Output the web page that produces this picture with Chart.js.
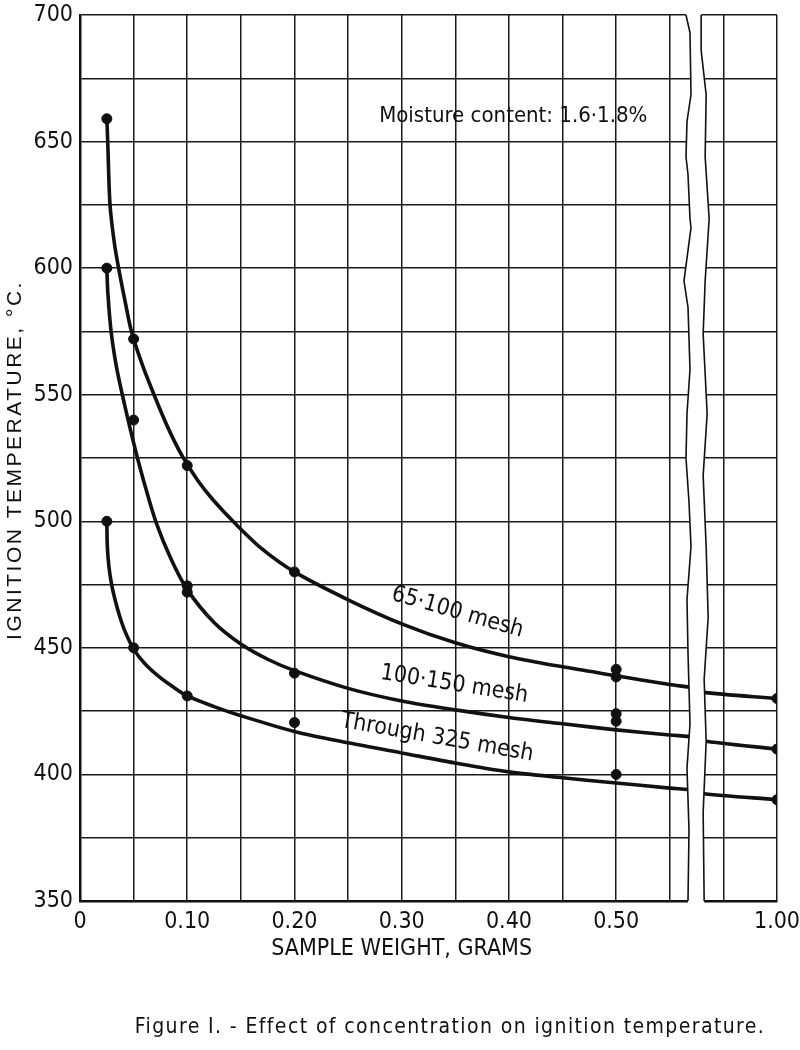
<!DOCTYPE html>
<html>
<head>
<meta charset="utf-8">
<title>Effect of concentration on ignition temperature</title>
<script src="https://cdn.jsdelivr.net/npm/chart.js@4.4.1/dist/chart.umd.min.js"></script>
<style>
    html, body { margin: 0; padding: 0; background: #fff; }
    #wrap { width: 800px; height: 1050px; }
</style>
</head>
<body>
<div id="wrap"><canvas id="fig"></canvas></div>
<script>
const pointWeights65 = [0.025, 0.05, 0.10, 0.20, 0.50, 0.50, 1.00];
const pointTemps65 = [659, 572, 522, 480, 441.5, 438.5, 430];
const pointWeights100 = [0.025, 0.05, 0.10, 0.10, 0.20, 0.50, 0.50, 1.00];
const pointTemps100 = [600, 540, 474.5, 472, 440, 424, 421, 410];
const pointWeights325 = [0.025, 0.05, 0.10, 0.20, 0.50, 1.00];
const pointTemps325 = [500, 450, 431, 420.5, 400, 390];

// Courbes lissées tracées sur la figure
const curveWeights65 = [0.025, 0.026, 0.028, 0.032, 0.036, 0.042, 0.048, 0.058, 0.07, 0.082, 0.095, 0.11, 0.125, 0.145, 0.17, 0.20, 0.25, 0.30, 0.35, 0.40, 0.45, 0.50, 0.55, 0.575, 0.93, 1.00];
const curveTemps65 = [660, 648, 625, 610, 600, 587, 575, 562, 549, 537, 526, 516, 508, 499, 489, 480, 469, 459.5, 452, 446.5, 442.5, 439, 435.5, 434, 432.5, 430];
const curveWeights100 = [0.025, 0.026, 0.029, 0.034, 0.040, 0.046, 0.053, 0.061, 0.071, 0.085, 0.10, 0.125, 0.15, 0.175, 0.20, 0.25, 0.30, 0.35, 0.40, 0.45, 0.50, 0.55, 0.575, 0.93, 1.00];
const curveTemps100 = [600, 590, 575, 561, 549, 538, 526, 513.5, 499.5, 485, 473, 460, 451.5, 445.5, 441, 434, 429, 425.5, 422.5, 420, 417.6, 415.6, 414.6, 413.3, 410];
const curveWeights325 = [0.025, 0.0255, 0.027, 0.0295, 0.033, 0.037, 0.042, 0.05, 0.061, 0.074, 0.087, 0.10, 0.125, 0.15, 0.20, 0.25, 0.30, 0.35, 0.40, 0.45, 0.50, 0.55, 0.575, 0.93, 1.00];
const curveTemps325 = [500, 490, 482, 475, 468.5, 462.5, 456.5, 449.5, 443.5, 438.5, 434.5, 431, 426.8, 423.2, 417, 412.5, 408.5, 404.5, 401, 398.7, 396.6, 394.6, 393.6, 392.5, 390];

// Graduations
const xTickWeights = [0, 0.10, 0.20, 0.30, 0.40, 0.50, 1.00];
const xTickLabels = ['0', '0.10', '0.20', '0.30', '0.40', '0.50', '1.00'];
const yTickValues = [350, 400, 450, 500, 550, 600, 650, 700];

// Textes
const curveLabels = ['65·100 mesh', '100·150 mesh', 'Through 325 mesh'];
const noteText = 'Moisture content: 1.6·1.8%';
const xTitle = 'SAMPLE WEIGHT, GRAMS';
const yTitle = 'IGNITION TEMPERATURE, °C.';
const caption = 'Figure I. - Effect of concentration on ignition temperature.';

// Coupure de l'axe x : tout ce qui dépasse 0.75 g est ramené de 0.35
const breakShift = 0.35;
const toAxis = w => (w > 0.75 ? w - breakShift : w);
const breakStart = 0.567;
const breakEnd = 0.583;

// Forme des bords déchirés (fraction de hauteur, décalage en px)
const zigLeft = [[0, -2], [0.02, 2], [0.09, 3], [0.12, -1], [0.16, -2], [0.18, 0], [0.23, 2], [0.24, 3], [0.3, -4], [0.33, 0], [0.4, 2], [0.45, -1], [0.5, -2], [0.55, 1], [0.6, 3], [0.66, -1], [0.72, 0], [0.8, 2], [0.85, -1], [0.92, 1], [1, 0]];
const zigRight = [[0, -4], [0.04, -4], [0.09, 1], [0.16, 0], [0.23, 4], [0.3, 0], [0.36, -2], [0.45, 2], [0.52, -2], [0.6, 1], [0.68, 3], [0.75, -1], [0.82, 1], [0.9, -2], [1, -1]];

const ink = '#111';
const narrow = '"Liberation Sans Narrow", "DejaVu Sans Condensed", sans-serif';

function toPoints(ws, ts) {
    return ws.map((w, i) => ({ x: toAxis(w), y: ts[i] }));
}

function curveDataset(ws, ts) {
    return {
        type: 'line',
        data: toPoints(ws, ts),
        borderColor: ink,
        borderWidth: 3.6,
        pointRadius: 0,
        tension: 0.3,
        fill: false,
    };
}

function pointDataset(ws, ts) {
    return {
        type: 'scatter',
        data: toPoints(ws, ts),
        backgroundColor: ink,
        borderColor: ink,
        pointRadius: 5,
        pointHoverRadius: 5,
    };
}

// Plugin : coupure de l'axe, étiquettes des courbes, titres et légende
const figurePlugin = {
    id: 'figure',
    afterDatasetsDraw(chart) {
        const { ctx, chartArea: a, scales: { x, y } } = chart;
        const xl = x.getPixelForValue(breakStart);
        const xr = x.getPixelForValue(breakEnd);
        const h = a.bottom - a.top;
        const left = zigLeft.map(([f, d]) => [xl + d, a.top + f * h]);
        const right = zigRight.map(([f, d]) => [xr + d, a.top + f * h]);

        ctx.save();
        ctx.fillStyle = '#fff';
        ctx.beginPath();
        ctx.moveTo(left[0][0], a.top - 4);
        left.forEach(p => ctx.lineTo(p[0], p[1]));
        ctx.lineTo(left[left.length - 1][0], a.bottom + 4);
        ctx.lineTo(right[right.length - 1][0], a.bottom + 4);
        right.slice().reverse().forEach(p => ctx.lineTo(p[0], p[1]));
        ctx.lineTo(right[0][0], a.top - 4);
        ctx.closePath();
        ctx.fill();

        ctx.strokeStyle = ink;
        ctx.lineWidth = 1.6;
        [left, right].forEach(edge => {
            ctx.beginPath();
            edge.forEach((p, i) => (i ? ctx.lineTo(p[0], p[1]) : ctx.moveTo(p[0], p[1])));
            ctx.stroke();
        });

        // Étiquettes des courbes
        const labelAt = [[0.352, 464, 16], [0.349, 435.5, 9], [0.333, 414.5, 10]];
        ctx.fillStyle = ink;
        ctx.font = '23px ' + narrow;
        ctx.textAlign = 'center';
        ctx.textBaseline = 'middle';
        curveLabels.forEach((txt, i) => {
            const [w, t, ang] = labelAt[i];
            ctx.save();
            ctx.translate(x.getPixelForValue(w), y.getPixelForValue(t));
            ctx.rotate(ang * Math.PI / 180);
            ctx.fillText(txt, 0, 0);
            ctx.restore();
        });

        // Note sur l'humidité
        ctx.font = '22px ' + narrow;
        ctx.textAlign = 'left';
        ctx.fillText(noteText, x.getPixelForValue(0.279), y.getPixelForValue(660));
        ctx.restore();
    },
    afterDraw(chart) {
        const { ctx, chartArea: a, scales: { x } } = chart;
        ctx.save();
        ctx.fillStyle = ink;
        ctx.textAlign = 'center';
        ctx.textBaseline = 'middle';

        ctx.font = '23px ' + narrow;
        ctx.fillText(xTitle, x.getPixelForValue(0.30), a.bottom + 48);

        ctx.save();
        ctx.translate(15, (a.top + a.bottom) / 2 + 2);
        ctx.rotate(-Math.PI / 2);
        ctx.font = '21px "Liberation Sans", Arial, sans-serif';
        ctx.letterSpacing = '2.5px';
        ctx.fillText(yTitle, 0, 0);
        ctx.restore();

        ctx.font = '21px ' + narrow;
        ctx.letterSpacing = '1.4px';
        ctx.fillText(caption, 450, 1028);
        ctx.restore();
    }
};

const ctx = document.getElementById('fig').getContext('2d');

const chart = new Chart(ctx, {
    data: {
        datasets: [
            curveDataset(curveWeights65, curveTemps65),
            curveDataset(curveWeights100, curveTemps100),
            curveDataset(curveWeights325, curveTemps325),
            pointDataset(pointWeights65, pointTemps65),
            pointDataset(pointWeights100, pointTemps100),
            pointDataset(pointWeights325, pointTemps325),
        ]
    },
    options: {
        responsive: true,
        maintainAspectRatio: false,
        animation: false,
        layout: { padding: { top: 15, right: 23, left: 0, bottom: 0 } },
        plugins: {
            legend: { display: false },
            tooltip: { enabled: false },
        },
        scales: {
            x: {
                type: 'linear',
                min: 0,
                max: toAxis(1.00),
                afterFit: s => {
                    s.height = 149;
                    s.paddingLeft = 0;
                    s.paddingRight = 0;
                },
                ticks: {
                    stepSize: 0.05,
                    autoSkip: false,
                    maxRotation: 0,
                    padding: 7,
                    color: ink,
                    font: { family: narrow, size: 23 },
                    callback: v => {
                        const i = xTickWeights.findIndex(w => Math.abs(toAxis(w) - v) < 1e-6);
                        return i >= 0 ? xTickLabels[i] : '';
                    }
                },
                grid: { color: '#1a1a1a', lineWidth: 1.5, drawTicks: false },
                border: { color: ink, width: 2.5 },
            },
            y: {
                min: 350,
                max: 700,
                afterFit: s => {
                    s.width = 80;
                    s.paddingTop = 0;
                    s.paddingBottom = 0;
                },
                ticks: {
                    stepSize: 25,
                    autoSkip: false,
                    padding: 7,
                    color: ink,
                    font: { family: narrow, size: 23 },
                    callback: v => (yTickValues.includes(v) ? String(v) : '')
                },
                grid: { color: '#1a1a1a', lineWidth: 1.5, drawTicks: false },
                border: { color: ink, width: 2.5 },
            }
        }
    },
    plugins: [figurePlugin]
});
</script>
</body>
</html>
